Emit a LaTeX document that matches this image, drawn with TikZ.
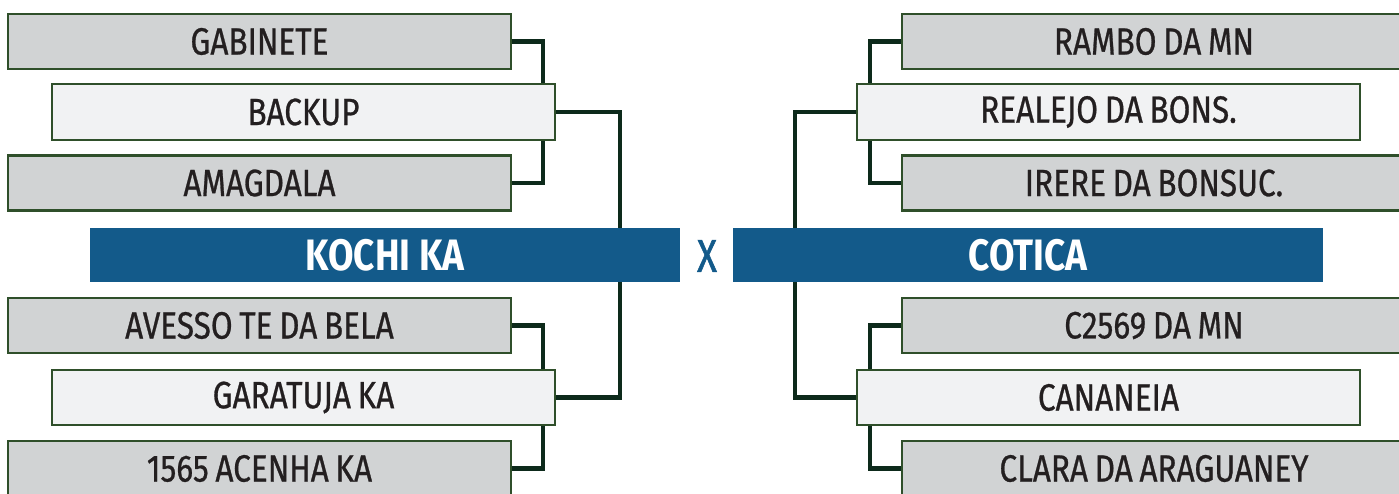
\documentclass[tikz,border=0pt]{standalone}
\usepackage{fontspec}
\setmainfont[FakeStretch=0.84]{Fira Sans}
\newfontfamily\entryfont[FakeStretch=0.83,FakeBold=0.7,WordSpace=0.8]{Fira Sans}
\newfontfamily\vsfont[FakeStretch=0.8,FakeBold=1.2]{Fira Sans}
\definecolor{boxgray}{HTML}{D1D3D4}
\definecolor{boxlight}{HTML}{F1F2F3}
\definecolor{boxborder}{HTML}{2F4F2A}
\definecolor{connline}{HTML}{0D2A1B}
\definecolor{teamblue}{HTML}{135A8A}
\definecolor{txtdark}{HTML}{231F20}
\tikzset{
  entry/.style={draw=boxborder, line width=2.4pt, inner sep=0pt,
    minimum height=55pt, text=txtdark, font=\entryfont\fontsize{38}{38}\selectfont},
  grayentry/.style={entry, fill=boxgray, minimum width=503pt},
  lightentry/.style={entry, fill=boxlight, minimum width=503pt},
  teambar/.style={fill=teamblue, inner sep=0pt, minimum width=590pt,
    minimum height=54pt, text=white, font=\bfseries\fontsize{44}{44}\selectfont},
  conn/.style={draw=connline, line width=4.5pt}
}
\begin{document}
\begin{tikzpicture}[x=1pt,y=-1pt]
\useasboundingbox (0,0) rectangle (1399,494);
\clip (0,0) rectangle (1399,494);
% junction coordinates
\coordinate (jl) at (543,0);
\coordinate (jlm) at (620,0);
\coordinate (jr) at (870,0);
\coordinate (jrm) at (795,0);
% left side
\node[grayentry] (gab) at (259.5,41.5) {GABINETE};
\node[lightentry, minimum height=56pt] (bak) at (303.5,112) {BACKUP};
\node[grayentry] (ama) at (259.5,183) {AMAGDALA};
\node[teambar] (kochi) at (385,255) {KOCHI KA};
\node[grayentry] (ave) at (259.5,325.5) {AVESSO TE DA BELA};
\node[lightentry] (gar) at (303.5,397.5) {GARATUJA KA};
\node[grayentry] (ace) at (259.5,468.5) {1565 ACENHA KA};
% vs
\node[text=teamblue, inner sep=0pt, font=\vsfont\fontsize{46}{46}\selectfont] (vs) at (707,256) {X};
% right side
\node[grayentry, minimum width=504pt] (ram) at (1154,41.5) {RAMBO DA MN};
\node[lightentry, minimum height=56pt] (rea) at (1108.5,112) {REALEJO DA BONS.};
\node[grayentry, minimum width=504pt] (ire) at (1154,183) {IRERE DA BONSUC.};
\node[teambar] (cot) at (1028,255) {COTICA};
\node[grayentry, minimum width=504pt] (c25) at (1154,325.5) {C2569 DA MN};
\node[lightentry] (can) at (1108.5,397.5) {CANANEIA};
\node[grayentry, minimum width=504pt] (cla) at (1154,468.5) {CLARA DA ARAGUANEY};
% connectors left
\draw[conn] (gab.east) -| (bak.north -| jl);
\draw[conn] (ama.east) -| (bak.south -| jl);
\draw[conn] (bak.east) -| (kochi.north -| jlm);
\draw[conn] (ave.east) -| (gar.north -| jl);
\draw[conn] (ace.east) -| (gar.south -| jl);
\draw[conn] (gar.east) -| (kochi.south -| jlm);
% connectors right
\draw[conn] (ram.west) -| (rea.north -| jr);
\draw[conn] (ire.west) -| (rea.south -| jr);
\draw[conn] (rea.west) -| (cot.north -| jrm);
\draw[conn] (c25.west) -| (can.north -| jr);
\draw[conn] (cla.west) -| (can.south -| jr);
\draw[conn] (can.west) -| (cot.south -| jrm);
\end{tikzpicture}
\end{document}
